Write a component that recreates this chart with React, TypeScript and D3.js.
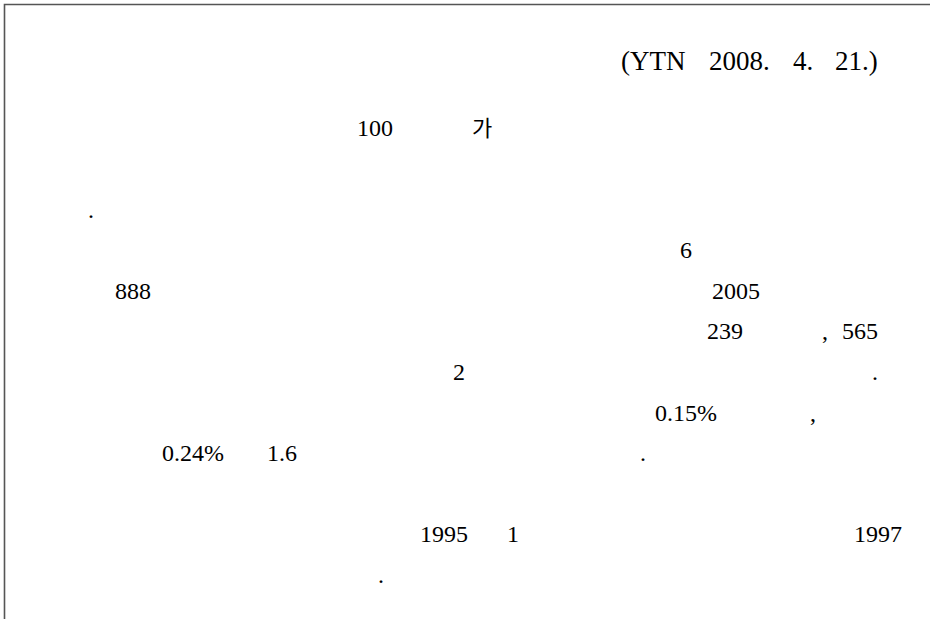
import React, { useRef, useEffect } from "react";
import * as d3 from "d3";

// Text fragments that survived in the scanned page (Korean body text is missing)
const sourceLabel = ["(YTN", "2008.", "4.", "21.)"];
const fragments = [
    "100", "가",
    ".",
    "6",
    "888", "2005",
    "239", ",", "565",
    "2", ".",
    "0.15%", ",",
    "0.24%", "1.6", ".",
    "1995", "1", "1997",
    ".",
];

// layout: line number on the page grid and the left edge of each fragment
const fragmentRows = [-2, -2, 0, 1, 2, 2, 3, 3, 3, 4, 4, 5, 5, 6, 6, 6, 8, 8, 8, 9];
const fragmentX = [357, 472, 88, 680, 115, 712, 707, 822, 842, 453, 872, 655, 810, 162, 267, 640, 420, 507, 854, 378];
const sourceX = [621, 709, 793, 835];

const W = 930;
const H = 619;
const SERIF = "Liberation Serif, Times New Roman, Times, serif";
const HANGUL = "Noto Sans CJK KR, sans-serif";

const App: React.FC = () => {
    const svgRef = useRef<SVGSVGElement>(null);

    useEffect(() => {
        document.body.style.margin = "0";
        const svgElement = svgRef.current;
        if (!svgElement) return;

        d3.select(svgElement).selectAll("*").remove();
        const svg = d3.select(svgElement).attr("width", W).attr("height", H).style("display", "block");

        svg.append("rect").attr("width", W).attr("height", H).attr("fill", "#fff");

        // page frame: only the top and left edges show
        svg.append("path")
            .attr("d", `M4.5,${H} L4.5,4.5 L${W},4.5`)
            .attr("fill", "none")
            .attr("stroke", "#555")
            .attr("stroke-width", 1.6);

        // baseline grid of the text lines
        const y = d3.scaleLinear().domain([0, 1]).range([217.5, 258.1]);

        svg.append("g")
            .selectAll("text")
            .data(sourceLabel)
            .join("text")
            .attr("x", (_, i) => sourceX[i])
            .attr("y", 70)
            .style("font-family", SERIF)
            .style("font-size", "27px")
            .attr("fill", "#000")
            .text((d) => d);

        svg.append("g")
            .selectAll("text")
            .data(fragments)
            .join("text")
            .attr("x", (_, i) => fragmentX[i])
            .attr("y", (_, i) => y(fragmentRows[i]))
            .style("font-family", (d) => (/[\uac00-\ud7a3]/.test(d) ? HANGUL : SERIF))
            .style("font-size", (d) => (/[\uac00-\ud7a3]/.test(d) ? "22px" : "24px"))
            .attr("fill", "#000")
            .text((d) => d);
    }, []);

    return <svg ref={svgRef}></svg>;
};

export default App;
